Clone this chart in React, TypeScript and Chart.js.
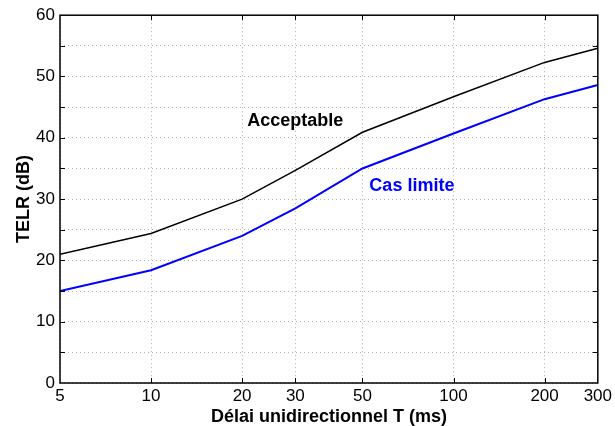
import React, { useEffect, useRef } from "react";
import { Chart, registerables } from "chart.js";

Chart.register(...registerables);

const delays = [5, 10, 20, 30, 50, 100, 200, 300];
const acceptable = [21.0, 24.4, 30.0, 34.7, 40.9, 46.7, 52.3, 54.6];
const casLimite = [15.0, 18.4, 24.0, 28.5, 35.0, 40.7, 46.3, 48.6];
const xTickValues = [5, 10, 20, 30, 50, 100, 200, 300];
const yTickLabelValues = [0, 10, 20, 30, 40, 50, 60];

const FONT = "'Liberation Sans', Arial, Helvetica, sans-serif";

const framePlugin = {
  id: "frame",
  afterDraw(chart: any) {
    const { ctx, chartArea } = chart;
    const { left, right, top, bottom } = chartArea;
    const xs = chart.scales.x;
    const ys = chart.scales.y;
    ctx.save();
    ctx.strokeStyle = "#000";
    ctx.lineWidth = 1;
    const tl = 5;
    ctx.beginPath();
    for (let v = 5; v < 60; v += 5) {
      const py = Math.round(ys.getPixelForValue(v)) + 0.5;
      ctx.moveTo(left, py);
      ctx.lineTo(left + tl, py);
      ctx.moveTo(right, py);
      ctx.lineTo(right - tl, py);
    }
    xTickValues.slice(1, -1).forEach((v) => {
      const px = Math.round(xs.getPixelForValue(v)) + 0.5;
      ctx.moveTo(px, top);
      ctx.lineTo(px, top + tl);
      ctx.moveTo(px, bottom);
      ctx.lineTo(px, bottom - tl);
    });
    ctx.stroke();
    ctx.lineWidth = 1.5;
    ctx.strokeRect(left, top, right - left, bottom - top);

    ctx.font = `bold 18px ${FONT}`;
    ctx.textAlign = "left";
    ctx.textBaseline = "middle";
    ctx.fillStyle = "#000";
    ctx.fillText("Acceptable", xs.getPixelForValue(20.8), ys.getPixelForValue(42.7));
    ctx.fillStyle = "#0000ff";
    ctx.fillText("Cas limite", xs.getPixelForValue(52.7), ys.getPixelForValue(32.2));
    ctx.restore();
  },
};

export default function App() {
  const ref = useRef<HTMLCanvasElement | null>(null);
  useEffect(() => {
    if (!ref.current) return;
    const chart = new Chart(ref.current, {
      type: "line",
      data: {
        datasets: [
          {
            label: "Acceptable",
            data: delays.map((d, i) => ({ x: d, y: acceptable[i] })),
            borderColor: "#000000",
            borderWidth: 1.5,
            pointRadius: 0,
            tension: 0,
          },
          {
            label: "Cas limite",
            data: delays.map((d, i) => ({ x: d, y: casLimite[i] })),
            borderColor: "#0000ff",
            borderWidth: 2,
            pointRadius: 0,
            tension: 0,
          },
        ],
      },
      options: {
        animation: false,
        responsive: false,
        maintainAspectRatio: false,
        layout: { padding: { top: 15, right: 15, left: 0, bottom: 0 } },
        plugins: { legend: { display: false }, tooltip: { enabled: false } },
        scales: {
          x: {
            type: "logarithmic",
            min: 5,
            max: 300,
            afterBuildTicks: (scale: any) => {
              scale.ticks = xTickValues.map((v) => ({ value: v }));
            },
            afterFit: (scale: any) => {
              scale.height = 43;
            },
            ticks: {
              autoSkip: false,
              maxRotation: 0,
              padding: 3,
              color: "#000",
              font: { family: FONT, size: 17 },
              callback: (v: any) => String(v),
            },
            grid: {
              color: "#b0b0b0",
              lineWidth: 1,
              drawTicks: false,
            },
            border: { display: false, dash: [1, 3] },
            title: {
              display: true,
              text: "Délai unidirectionnel T (ms)",
              color: "#000",
              font: { family: FONT, size: 18, weight: "bold" },
              padding: { top: 0, bottom: -2 },
            },
          },
          y: {
            type: "linear",
            min: 0,
            max: 60,
            afterBuildTicks: (scale: any) => {
              const t: any[] = [];
              for (let v = 0; v <= 60; v += 5) t.push({ value: v });
              scale.ticks = t;
            },
            afterFit: (scale: any) => {
              scale.width = 60;
            },
            ticks: {
              autoSkip: false,
              padding: 5,
              color: "#000",
              font: { family: FONT, size: 17 },
              callback: (v: any) => (yTickLabelValues.includes(Number(v)) ? String(v) : ""),
            },
            grid: {
              color: "#b0b0b0",
              lineWidth: 1,
              drawTicks: false,
            },
            border: { display: false, dash: [1, 3] },
            title: {
              display: true,
              text: "TELR (dB)",
              color: "#000",
              font: { family: FONT, size: 18, weight: "bold" },
              padding: { top: 13, bottom: 0 },
            },
          },
        },
      },
      plugins: [framePlugin],
    });
    return () => chart.destroy();
  }, []);
  return (
    <div style={{ position: "fixed", left: 0, top: 0, width: 615, height: 426, background: "#fff" }}>
      <canvas ref={ref} width={615} height={426} style={{ width: 615, height: 426 }} />
    </div>
  );
}
